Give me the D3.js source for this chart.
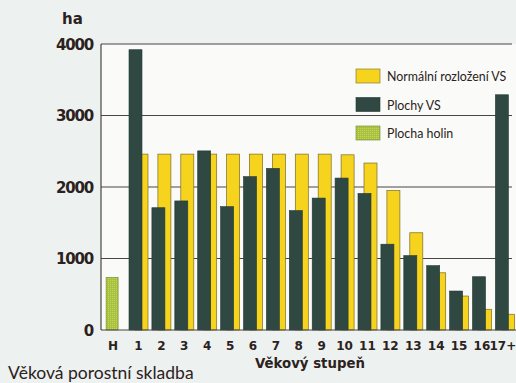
<!DOCTYPE html>
<html>
<head>
<meta charset="utf-8">
<script src="https://cdn.jsdelivr.net/npm/d3@7"></script>
<style>
  html, body { margin: 0; padding: 0; background: #edf1f0; overflow: hidden; }
  svg { display: block; }
</style>
</head>
<body>
<svg id="chart" width="516" height="383"></svg>
<script>
// Age classes (věkové stupně)
const categories = ["H", "1", "2", "3", "4", "5", "6", "7", "8", "9", "10", "11", "12", "13", "14", "15", "16", "17+"];
// Normal distribution of age classes (ha)
const normalValues = [null, 2460, 2460, 2460, 2460, 2460, 2460, 2460, 2460, 2460, 2450, 2335, 1950, 1360, 800, 475, 290, 220];
// Actual age-class areas (ha)
const actualValues = [null, 3920, 1710, 1805, 2505, 1725, 2145, 2260, 1670, 1845, 2125, 1910, 1200, 1040, 900, 545, 745, 3290];
// Clear-cut area (ha)
const clearcutValues = [735, null, null, null, null, null, null, null, null, null, null, null, null, null, null, null, null, null];
const yTicks = [0, 1000, 2000, 3000, 4000];
const legendLabels = ["Normální rozložení VS", "Plochy VS", "Plocha holin"];

const colors = { normal: "#f6d31c", actual: "#2f4842", clearcut: "#a9c23c", ink: "#2b2220", grid: "#4a4444" };

const svg = d3.select("#chart");
const plotLeft = 101, plotTop = 44, plotBottom = 330, plotRight = 516;

const x = d3.scaleBand().domain(categories).range([104.1, 516.3]).paddingInner(0).paddingOuter(0);
const y = d3.scaleLinear().domain([0, 4000]).range([plotBottom, plotTop]);

const defs = svg.append("defs");
const pat = defs.append("pattern").attr("id", "dots").attr("width", 2).attr("height", 2)
  .attr("patternUnits", "userSpaceOnUse");
pat.append("rect").attr("width", 2).attr("height", 2).attr("fill", colors.clearcut);
pat.append("rect").attr("width", 1).attr("height", 1).attr("fill", "#c3d46a");

// Plot background
svg.append("rect").attr("x", plotLeft).attr("y", plotTop).attr("width", plotRight - plotLeft).attr("height", plotBottom - plotTop)
  .attr("fill", "#fafbf8");

// Horizontal grid lines
svg.append("g").selectAll("line").data(yTicks.filter(d => d > 0)).join("line")
  .attr("x1", plotLeft).attr("x2", 512)
  .attr("y1", d => y(d)).attr("y2", d => y(d))
  .attr("stroke", colors.grid).attr("stroke-width", 1.1);

const bw = 13;
// Normal distribution bars (behind)
svg.append("g").selectAll("rect").data(categories.map((c, i) => ({ c, v: normalValues[i] })).filter(d => d.v != null))
  .join("rect")
  .attr("x", d => x(d.c) + 8).attr("width", bw)
  .attr("y", d => y(d.v)).attr("height", d => y(0) - y(d.v))
  .attr("fill", colors.normal).attr("stroke", "#7a6a2a").attr("stroke-width", 0.7);

// Actual age-class bars (front)
svg.append("g").selectAll("rect").data(categories.map((c, i) => ({ c, v: actualValues[i] })).filter(d => d.v != null))
  .join("rect")
  .attr("x", d => x(d.c) + 2).attr("width", bw)
  .attr("y", d => y(d.v)).attr("height", d => y(0) - y(d.v))
  .attr("fill", colors.actual).attr("stroke", "#243832").attr("stroke-width", 0.6);

// Clear-cut bar
svg.append("g").selectAll("rect").data(categories.map((c, i) => ({ c, v: clearcutValues[i] })).filter(d => d.v != null))
  .join("rect")
  .attr("x", d => x(d.c) + 2).attr("width", 12)
  .attr("y", d => y(d.v)).attr("height", d => y(0) - y(d.v))
  .attr("fill", "url(#dots)").attr("stroke", "#6f7f2a").attr("stroke-width", 0.6);

// Axis lines
svg.append("line").attr("x1", plotLeft).attr("x2", plotLeft).attr("y1", plotTop).attr("y2", plotBottom)
  .attr("stroke", colors.grid).attr("stroke-width", 1.2);
svg.append("line").attr("x1", plotLeft).attr("x2", plotRight).attr("y1", plotBottom).attr("y2", plotBottom)
  .attr("stroke", colors.grid).attr("stroke-width", 1.2);

// Y axis
const yAxis = d3.axisLeft(y).tickValues(yTicks).tickFormat(d3.format("d")).tickSize(0).tickPadding(8);
const gy = svg.append("g").attr("transform", `translate(${plotLeft},0)`).call(yAxis);
gy.select(".domain").remove();
gy.selectAll("text").attr("font-family", "DejaVu Sans").attr("font-weight", "bold")
  .attr("font-size", 15).attr("letter-spacing", -1.2).attr("fill", colors.ink).attr("dy", "0.36em");

// X axis
const xAxis = d3.axisBottom(x).tickSize(0).tickPadding(11);
const gx = svg.append("g").attr("transform", `translate(0,${plotBottom})`).call(xAxis);
gx.select(".domain").remove();
gx.selectAll("text").attr("font-family", "DejaVu Sans").attr("font-weight", "bold")
  .attr("font-size", 12).attr("fill", colors.ink).attr("text-anchor", "middle")
  .attr("dx", d => d === "H" ? -2.5 : (d === "17+" ? -2 : 0));

// Units
svg.append("text").attr("x", 62).attr("y", 24).text("ha")
  .attr("font-family", "DejaVu Sans").attr("font-weight", "bold").attr("font-size", 15)
  .attr("fill", colors.ink);

// X axis title
svg.append("text").attr("x", 255).attr("y", 368).text("Věkový stupeň")
  .attr("font-family", "DejaVu Sans").attr("font-weight", "bold").attr("font-size", 13.3)
  .attr("fill", colors.ink);

// Caption
svg.append("text").attr("x", 8).attr("y", 379).text("Věková porostní skladba")
  .attr("font-family", "Lato").attr("font-size", 17.5).attr("fill", colors.ink);

// Legend
const legendFills = [colors.normal, colors.actual, "url(#dots)"];
const legendStrokes = ["#7a6a2a", "#243832", "#6f7f2a"];
const lg = svg.append("g").selectAll("g").data(legendLabels).join("g")
  .attr("transform", (d, i) => `translate(356,${69 + i * 28.5})`);
lg.append("rect").attr("width", 24).attr("height", 14)
  .attr("fill", (d, i) => legendFills[i]).attr("stroke", (d, i) => legendStrokes[i]).attr("stroke-width", 0.6);
lg.append("text").attr("x", 31).attr("y", 12).text(d => d)
  .attr("font-family", "Lato").attr("font-size", 12.4).attr("fill", colors.ink);
</script>
</body>
</html>
